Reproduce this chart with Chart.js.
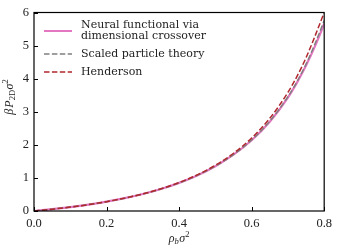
<!DOCTYPE html>
<html>
<head>
<meta charset="utf-8">
<script src="https://cdn.jsdelivr.net/npm/chart.js@4"></script>
<style>
  html, body { margin: 0; padding: 0; background: #fff; }
  #wrap { width: 337px; height: 250px; }
</style>
</head>
<body>
<div id="wrap"><canvas id="eosChart" width="337" height="250"></canvas></div>
<script>
// density rho_b sigma^2
var rho = [0, 0.05, 0.1, 0.15, 0.2, 0.25, 0.3, 0.35, 0.4, 0.45, 0.5, 0.55, 0.6, 0.65, 0.7, 0.725, 0.75, 0.775, 0.8];
// beta P_2D sigma^2
var neural    = [0, 0.054, 0.118, 0.193, 0.281, 0.387, 0.513, 0.665, 0.850, 1.075, 1.354, 1.702, 2.140, 2.700, 3.430, 3.880, 4.395, 4.990, 5.660];
var spt       = [0, 0.054, 0.118, 0.193, 0.282, 0.387, 0.513, 0.666, 0.850, 1.076, 1.356, 1.705, 2.146, 2.713, 3.454, 3.910, 4.440, 5.060, 5.760];
var henderson = [0, 0.054, 0.118, 0.193, 0.282, 0.389, 0.517, 0.672, 0.861, 1.093, 1.382, 1.745, 2.206, 2.801, 3.585, 4.068, 4.633, 5.296, 6.000];
var xTicks = [0, 0.2, 0.4, 0.6, 0.8];
var yTicks = [0, 1, 2, 3, 4, 5, 6];

var legendItems = [
    { text: ['Neural functional via', 'dimensional crossover'], color: '#e377c2', width: 2, dash: [] },
    { text: ['Scaled particle theory'], color: '#808080', width: 1.5, dash: [5.5, 2.4] },
    { text: ['Henderson'], color: '#b0282e', width: 1.5, dash: [5.5, 2.4] }
];

function pts(vals) {
    return rho.map(function (r, i) { return { x: r, y: vals[i] }; });
}

// draw text made of pieces (sub/superscripts), centred on x
function drawPieces(ctx, parts, x, y) {
    var total = 0;
    parts.forEach(function (p) { ctx.font = p.font; total += ctx.measureText(p.t).width + (p.gap || 0); });
    var cx = x - total / 2;
    parts.forEach(function (p) {
        ctx.font = p.font;
        ctx.fillText(p.t, cx, y + (p.dy || 0));
        cx += ctx.measureText(p.t).width + (p.gap || 0);
    });
}

var frame = {
    id: 'frame',
    afterDatasetsDraw: function (chart) {
        var ctx = chart.ctx, a = chart.chartArea;
        var xs = chart.scales.x, ys = chart.scales.y;
        ctx.save();
        ctx.strokeStyle = '#000';
        ctx.lineWidth = 1.2;
        ctx.strokeRect(a.left, a.top, a.right - a.left, a.bottom - a.top);
        // inward ticks
        ctx.lineWidth = 1;
        ctx.beginPath();
        xTicks.forEach(function (v) {
            var px = Math.round(xs.getPixelForValue(v)) + 0.5;
            ctx.moveTo(px, a.bottom); ctx.lineTo(px, a.bottom - 4);
        });
        yTicks.forEach(function (v) {
            var py = Math.round(ys.getPixelForValue(v)) + 0.5;
            ctx.moveTo(a.left, py); ctx.lineTo(a.left + 4, py);
        });
        ctx.stroke();

        // legend
        var lx = 44, ly = [31, 54, 72];
        ctx.textBaseline = 'middle';
        ctx.fillStyle = '#222';
        ctx.font = '11px "DejaVu Serif"';
        legendItems.forEach(function (it, i) {
            ctx.strokeStyle = it.color;
            ctx.lineWidth = it.width;
            ctx.setLineDash(it.dash);
            ctx.beginPath();
            ctx.moveTo(lx, ly[i]); ctx.lineTo(lx + 28, ly[i]);
            ctx.stroke();
            ctx.setLineDash([]);
            if (it.text.length === 2) {
                ctx.fillText(it.text[0], 81, ly[i] - 6);
                ctx.fillText(it.text[1], 81, ly[i] + 5);
            } else {
                ctx.fillText(it.text[0], 81, ly[i]);
            }
        });

        // axis titles
        ctx.fillStyle = '#222';
        ctx.textBaseline = 'alphabetic';
        var big = 'italic 12px "Liberation Serif"', small = 'italic 8.5px "Liberation Serif"', smallUp = '8.5px "Liberation Serif"';
        drawPieces(ctx, [
            { t: 'ρ', font: big }, { t: 'b', font: small, dy: 2, gap: 0.5 },
            { t: 'σ', font: big }, { t: '2', font: smallUp, dy: -5 }
        ], (a.left + a.right) / 2, 242);
        ctx.save();
        ctx.translate(13, 97);
        ctx.rotate(-Math.PI / 2);
        drawPieces(ctx, [
            { t: 'β', font: big, gap: 1 }, { t: 'P', font: big }, { t: '2D', font: smallUp, dy: 2, gap: 0.5 },
            { t: 'σ', font: big }, { t: '2', font: smallUp, dy: -5 }
        ], 0, 0);
        ctx.restore();
        ctx.restore();
    }
};

new Chart(document.getElementById('eosChart').getContext('2d'), {
    type: 'line',
    data: {
        datasets: [
            { label: 'Neural functional via dimensional crossover', data: pts(neural),
              borderColor: legendItems[0].color, borderWidth: 2.2, order: 3 },
            { label: 'Scaled particle theory', data: pts(spt),
              borderColor: legendItems[1].color, borderWidth: 1.5, borderDash: [5.5, 2.4], order: 2 },
            { label: 'Henderson', data: pts(henderson),
              borderColor: legendItems[2].color, borderWidth: 1.5, borderDash: [5.5, 2.4], order: 1 }
        ]
    },
    options: {
        responsive: false,
        animation: false,
        events: [],
        elements: { point: { radius: 0 }, line: { cubicInterpolationMode: 'monotone', fill: false } },
        layout: { padding: { top: 10, right: 12, left: 0, bottom: 0 } },
        plugins: { legend: { display: false }, tooltip: { enabled: false } },
        scales: {
            x: {
                type: 'linear', min: 0, max: 0.8,
                afterBuildTicks: function (s) { s.ticks = xTicks.map(function (v) { return { value: v }; }); },
                afterFit: function (s) { s.height = 39; },
                grid: { display: false, drawTicks: false },
                border: { display: false },
                ticks: { padding: 5, color: '#222', font: { family: 'Liberation Serif', size: 12.5 },
                         maxRotation: 0, callback: function (v) { return v.toFixed(1); } }
            },
            y: {
                min: 0, max: 6,
                afterBuildTicks: function (s) { s.ticks = yTicks.map(function (v) { return { value: v }; }); },
                afterFit: function (s) { s.width = 34; },
                grid: { display: false, drawTicks: false },
                border: { display: false },
                ticks: { padding: 5, color: '#222', font: { family: 'Liberation Serif', size: 12.5 } }
            }
        }
    },
    plugins: [frame]
});
</script>
</body>
</html>
